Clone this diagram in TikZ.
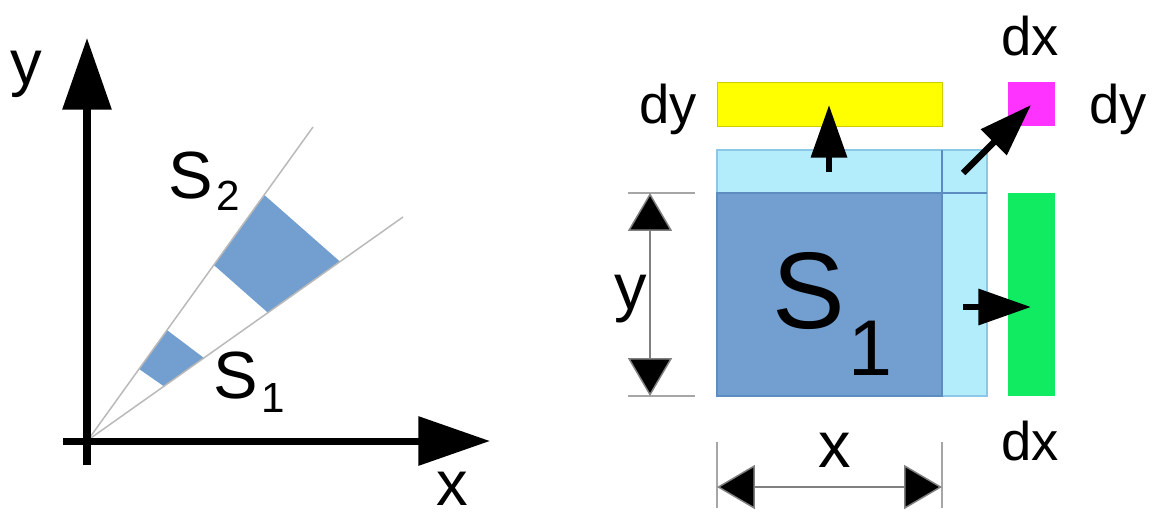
\documentclass[tikz,border=0pt]{standalone}
\usepackage{fontspec}
\setmainfont{Liberation Sans}
\usepackage{xcolor}
\usetikzlibrary{arrows.meta, positioning}

\definecolor{areablue}{HTML}{729FCF}
\definecolor{edgeblue}{HTML}{5C8CC0}
\definecolor{growblue}{HTML}{B3EDFC}
\definecolor{growedge}{HTML}{8CC8E6}
\definecolor{stripy}{HTML}{FFFF00}
\definecolor{stripx}{HTML}{10EB62}
\definecolor{corner}{HTML}{FF33FF}

% S with a lowered index: size, drop, index
\newcommand{\Ssub}[3]{S\hspace{2pt}\raisebox{-#2}{\fontsize{#1}{#1}\selectfont #3}}

\begin{document}
\begin{tikzpicture}[
  x=0.02cm, y=-0.02cm,
  axisline/.style={line width=4pt, -{Triangle[length=40.8pt,width=27.2pt]}},
  rayline/.style={draw=gray!55, line width=0.85pt},
  growarrow/.style={line width=3.6pt, -{Triangle[length=30pt,width=20pt]}},
  tickline/.style={draw=gray!70, line width=0.85pt},
  dimline/.style={draw=gray, line width=0.85pt,
    {Triangle[length=21.5pt,width=25pt,fill=black]}-{Triangle[length=21.5pt,width=25pt,fill=black]}},
  lbltext/.style={anchor=base, inner sep=0pt, font=\fontsize{36}{36}\selectfont},
  smalltext/.style={anchor=base, inner sep=0pt, font=\fontsize{31}{31}\selectfont}
]
\useasboundingbox (0,0) rectangle (1158,515);

% Left: axes and rays
\coordinate (o) at (88,440);
\coordinate (ybot) at (87,465);
\coordinate (ytop) at (87,38);
\coordinate (xleft) at (63,441);
\coordinate (xright) at (490,441);
\coordinate (r1) at (313,127);
\coordinate (r2) at (403,217);

\fill[areablue] (139.1,369.0) -- (167,330.1) -- (203.9,357.9) -- (163.9,386.3) -- cycle;
\fill[areablue] (213.8,265.0) -- (264.2,194.9) -- (340,261.6) -- (267.9,312.7) -- cycle;

\draw[rayline] (o) -- (r1);
\draw[rayline] (o) -- (r2);
\draw[axisline] (ybot) -- (ytop);
\draw[axisline] (xleft) -- (xright);

\node[lbltext] (ly) at (26,84) {y};
\node[lbltext] (lx) at (452,505) {x};
\node[lbltext, anchor=base west, font=\fontsize{38}{38}\selectfont] (s2) at (168,198) {\Ssub{24pt}{7pt}{2}};
\node[lbltext, anchor=base west, font=\fontsize{38}{38}\selectfont] (s1) at (213,398) {\Ssub{24pt}{8pt}{1}};

% Right: square and its growth
\fill[growblue, draw=growedge, line width=0.6pt] (717,150) rectangle (987,396);
\fill[areablue, draw=edgeblue, line width=0.6pt] (717,193) rectangle (942,396);
\draw[edgeblue, line width=0.6pt] (942,150) -- (942,193) -- (987,193);
\fill[stripy, draw=stripy!80!black, line width=0.4pt] (717,82) rectangle (942,126);
\fill[corner] (1008,82) rectangle (1055,126);
\fill[stripx] (1008,193) rectangle (1055,396);

\node[anchor=base west, inner sep=0pt, font=\fontsize{62}{62}\selectfont] (big) at (772,328) {\Ssub{45pt}{27pt}{1}};

% Pointers
\coordinate (upa) at (829,172);
\coordinate (upb) at (829,105);
\coordinate (dga) at (963,173);
\coordinate (dgb) at (1031,105);
\coordinate (rta) at (963,307);
\coordinate (rtb) at (1031,307);
\draw[growarrow] (upa) -- (upb);
\draw[growarrow] (dga) -- (dgb);
\draw[growarrow] (rta) -- (rtb);

% Dimensions
\draw[tickline] (628,193) -- (695,193);
\draw[tickline] (628,396) -- (695,396);
\draw[tickline] (717,442) -- (717,508);
\draw[tickline] (942,442) -- (942,508);
\coordinate (dya) at (650,193);
\coordinate (dyb) at (650,396);
\coordinate (dxa) at (717,487);
\coordinate (dxb) at (942,487);
\draw[dimline] (dya) -- (dyb);
\draw[dimline] (dxa) -- (dxb);

\node[lbltext, font=\fontsize{37}{37}\selectfont] (ry) at (631,309) {y};
\node[lbltext, font=\fontsize{37}{37}\selectfont] (rx) at (835,467) {x};
\node[smalltext] (dyl) at (668,123) {dy};
\node[smalltext] (dyr) at (1118,123) {dy};
\node[smalltext] (dxt) at (1030,55) {dx};
\node[smalltext] (dxb2) at (1030,460) {dx};
\end{tikzpicture}
\end{document}
